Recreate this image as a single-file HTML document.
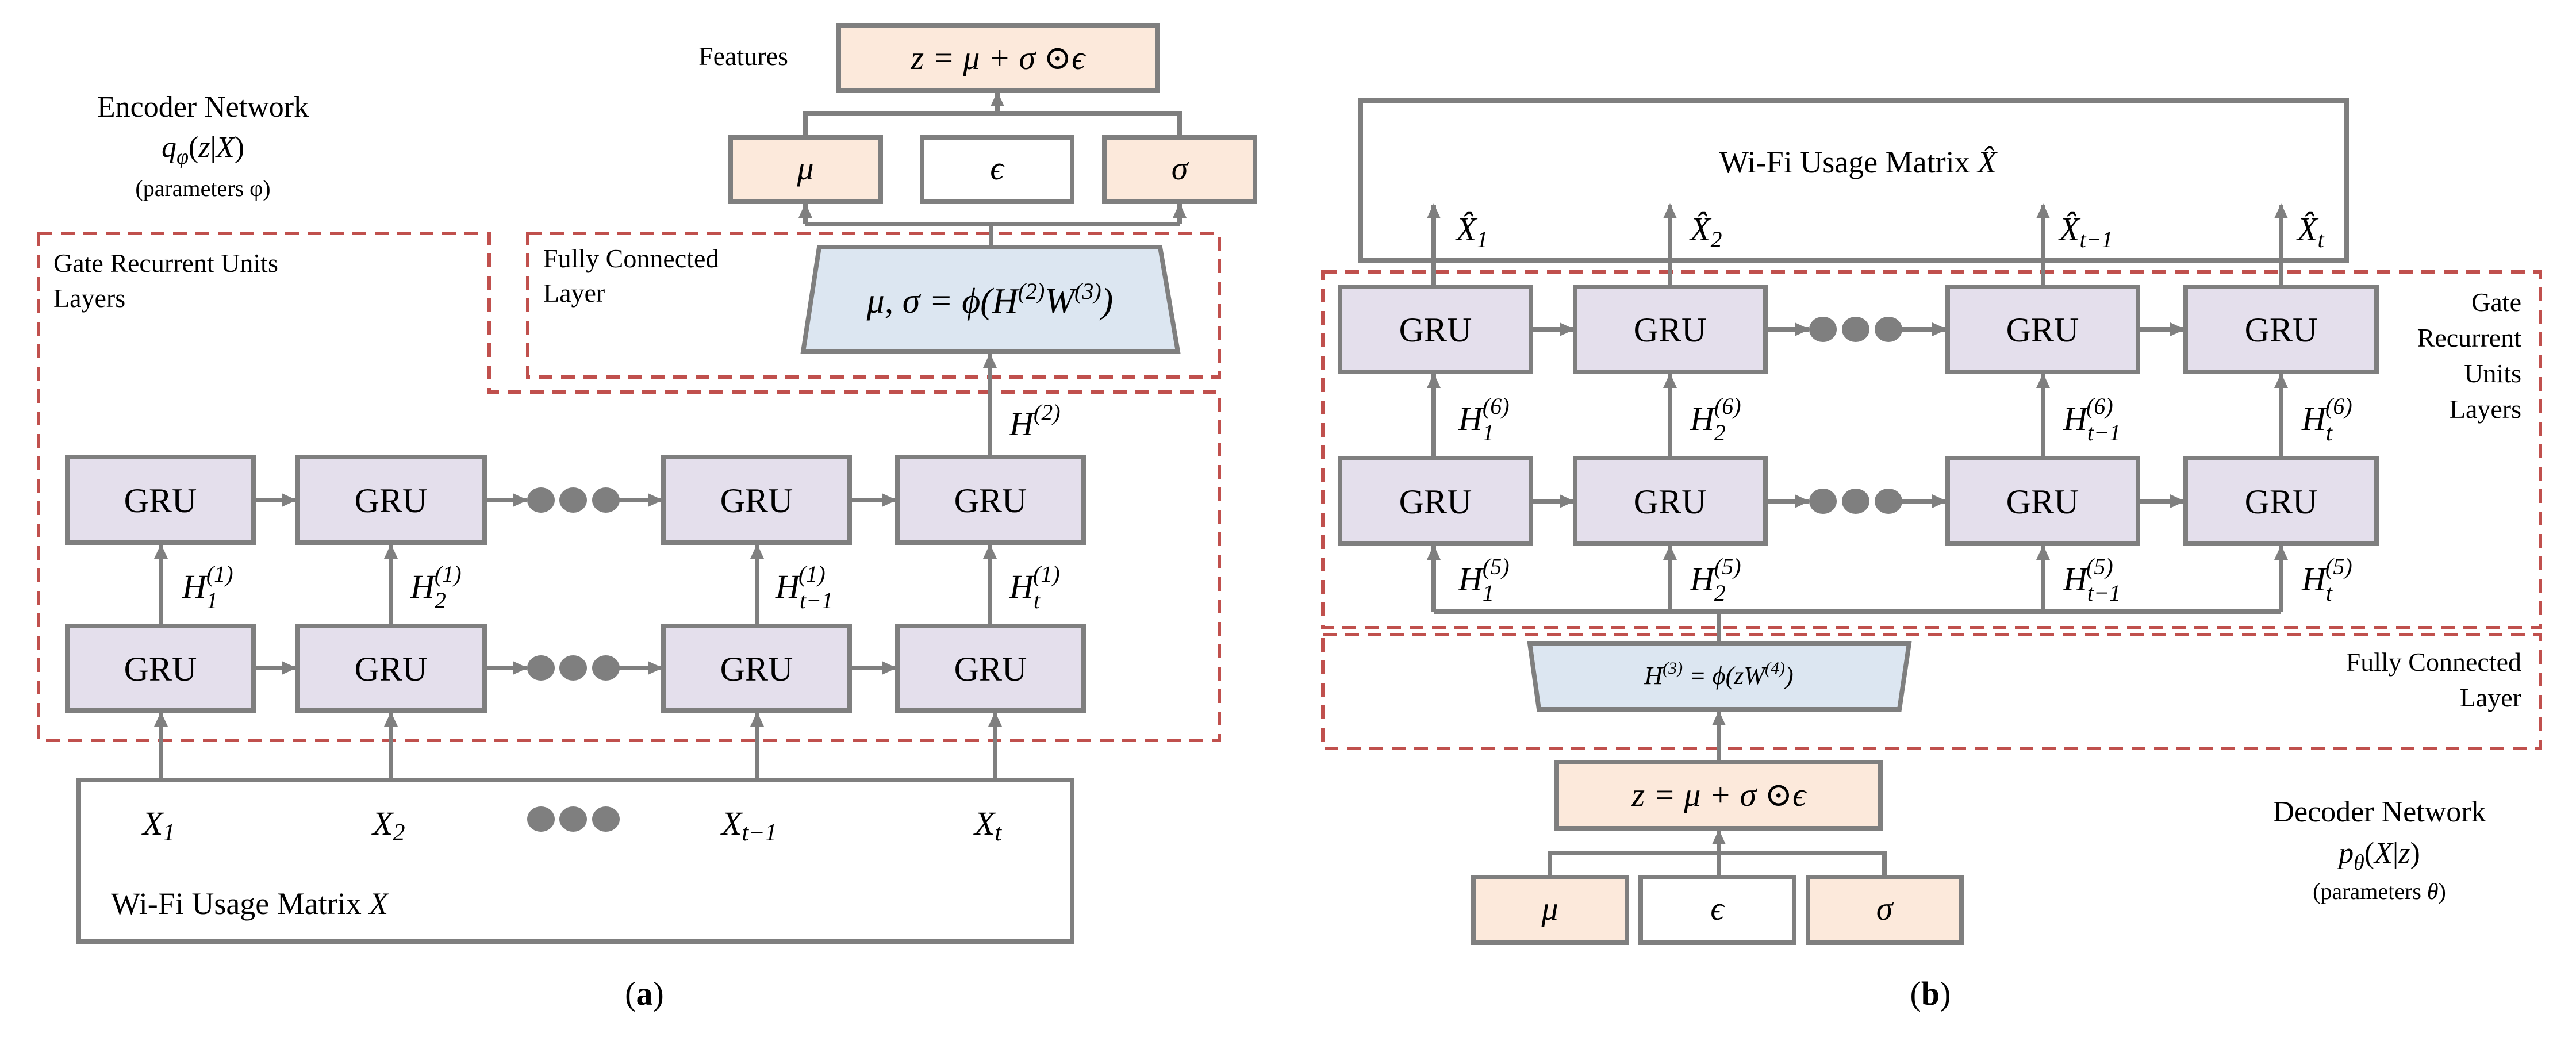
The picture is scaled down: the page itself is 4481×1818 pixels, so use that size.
<!DOCTYPE html>
<html><head><meta charset="utf-8"><style>
html,body{margin:0;padding:0;background:#fff}
svg{display:block}
text{font-family:"Liberation Serif","DejaVu Serif",serif;fill:#000}
.m{font-style:italic}
</style></head><body>
<svg width="4481" height="1818" viewBox="0 0 4481 1818" xmlns="http://www.w3.org/2000/svg" font-family="'Liberation Serif','DejaVu Serif',serif">
<defs>
<marker id="a" markerUnits="userSpaceOnUse" markerWidth="26" markerHeight="24" refX="24" refY="12" orient="auto">
<path d="M0,0 L26,12 L0,24 Z" fill="#7f7f7f"/></marker>
</defs>
<g stroke="#c0504d" stroke-width="6" stroke-dasharray="24 15" fill="none">
<path d="M67,406 H851 V682 H2121 V1288 H67 Z"/>
<rect x="918" y="406" width="1203" height="250"/>
<rect x="2301" y="473" width="2118" height="619"/>
<rect x="2301" y="1104" width="2118" height="198"/>
</g>
<g stroke="#7f7f7f" stroke-width="8" fill="none">
<path d="M1724,612 V390 M1401,390 H2052" />
<line x1="1401" y1="390" x2="1401" y2="355" marker-end="url(#a)"/>
<line x1="2052" y1="390" x2="2052" y2="355" marker-end="url(#a)"/>
<path d="M1401,239 V197 H2052 V239"/>
<line x1="1735" y1="197" x2="1735" y2="161" marker-end="url(#a)"/>
<line x1="1722" y1="795" x2="1722" y2="616" marker-end="url(#a)"/>
<line x1="280" y1="1357" x2="280" y2="1240" marker-end="url(#a)"/>
<line x1="680" y1="1357" x2="680" y2="1240" marker-end="url(#a)"/>
<line x1="1317" y1="1357" x2="1317" y2="1240" marker-end="url(#a)"/>
<line x1="1731" y1="1357" x2="1731" y2="1240" marker-end="url(#a)"/>
<line x1="280" y1="1089" x2="280" y2="948" marker-end="url(#a)"/>
<line x1="680" y1="1089" x2="680" y2="948" marker-end="url(#a)"/>
<line x1="1317" y1="1089" x2="1317" y2="948" marker-end="url(#a)"/>
<line x1="1722" y1="1089" x2="1722" y2="948" marker-end="url(#a)"/>
<line x1="441" y1="870" x2="514" y2="870" marker-end="url(#a)"/>
<line x1="441" y1="1162" x2="514" y2="1162" marker-end="url(#a)"/>
<line x1="843" y1="870" x2="916" y2="870" marker-end="url(#a)"/>
<line x1="843" y1="1162" x2="916" y2="1162" marker-end="url(#a)"/>
<line x1="1054" y1="870" x2="1151" y2="870" marker-end="url(#a)"/>
<line x1="1054" y1="1162" x2="1151" y2="1162" marker-end="url(#a)"/>
<line x1="1478" y1="870" x2="1558" y2="870" marker-end="url(#a)"/>
<line x1="1478" y1="1162" x2="1558" y2="1162" marker-end="url(#a)"/>
<line x1="2494" y1="499" x2="2494" y2="356" marker-end="url(#a)"/>
<line x1="2905" y1="499" x2="2905" y2="356" marker-end="url(#a)"/>
<line x1="3554" y1="499" x2="3554" y2="356" marker-end="url(#a)"/>
<line x1="3968" y1="499" x2="3968" y2="356" marker-end="url(#a)"/>
<line x1="2494" y1="797" x2="2494" y2="651" marker-end="url(#a)"/>
<line x1="2905" y1="797" x2="2905" y2="651" marker-end="url(#a)"/>
<line x1="3554" y1="797" x2="3554" y2="651" marker-end="url(#a)"/>
<line x1="3968" y1="797" x2="3968" y2="651" marker-end="url(#a)"/>
<path d="M2494,1064 H3968 M2990,1064 V1119"/>
<line x1="2494" y1="1064" x2="2494" y2="950" marker-end="url(#a)"/>
<line x1="2905" y1="1064" x2="2905" y2="950" marker-end="url(#a)"/>
<line x1="3554" y1="1064" x2="3554" y2="950" marker-end="url(#a)"/>
<line x1="3968" y1="1064" x2="3968" y2="950" marker-end="url(#a)"/>
<line x1="2663" y1="573" x2="2737" y2="573" marker-end="url(#a)"/>
<line x1="2663" y1="872" x2="2737" y2="872" marker-end="url(#a)"/>
<line x1="3071" y1="573" x2="3146" y2="573" marker-end="url(#a)"/>
<line x1="3071" y1="872" x2="3146" y2="872" marker-end="url(#a)"/>
<line x1="3285" y1="573" x2="3385" y2="573" marker-end="url(#a)"/>
<line x1="3285" y1="872" x2="3385" y2="872" marker-end="url(#a)"/>
<line x1="3719" y1="573" x2="3799" y2="573" marker-end="url(#a)"/>
<line x1="3719" y1="872" x2="3799" y2="872" marker-end="url(#a)"/>
<line x1="2990" y1="1326" x2="2990" y2="1238" marker-end="url(#a)"/>
<path d="M2696,1526 V1484 H3278 V1526"/>
<line x1="2990" y1="1526" x2="2990" y2="1445" marker-end="url(#a)"/>
</g>
<g fill="#7f7f7f">
<ellipse cx="941" cy="870" rx="24" ry="22"/><ellipse cx="997" cy="870" rx="24" ry="22"/><ellipse cx="1054" cy="870" rx="24" ry="22"/>
<ellipse cx="941" cy="1162" rx="24" ry="22"/><ellipse cx="997" cy="1162" rx="24" ry="22"/><ellipse cx="1054" cy="1162" rx="24" ry="22"/>
<ellipse cx="941" cy="1425" rx="24" ry="22"/><ellipse cx="997" cy="1425" rx="24" ry="22"/><ellipse cx="1054" cy="1425" rx="24" ry="22"/>
<ellipse cx="3171" cy="573" rx="24" ry="22"/><ellipse cx="3228" cy="573" rx="24" ry="22"/><ellipse cx="3285" cy="573" rx="24" ry="22"/>
<ellipse cx="3171" cy="872" rx="24" ry="22"/><ellipse cx="3228" cy="872" rx="24" ry="22"/><ellipse cx="3285" cy="872" rx="24" ry="22"/>
</g>
<g stroke="#7f7f7f" stroke-width="8">
<rect x="1459" y="44" width="554" height="113" fill="#fce9db"/>
<rect x="1271" y="239" width="261" height="112" fill="#fce9db"/>
<rect x="1604" y="239" width="261" height="112" fill="#fff"/>
<rect x="1921" y="239" width="262" height="112" fill="#fce9db"/>
<polygon points="1425,430 2018,430 2049,612 1397,612" fill="#dce6f1"/>
<g fill="#e4dfec">
<rect x="117" y="795" width="324" height="149"/><rect x="517" y="795" width="326" height="149"/>
<rect x="1154" y="795" width="324" height="149"/><rect x="1561" y="795" width="324" height="149"/>
<rect x="117" y="1089" width="324" height="147"/><rect x="517" y="1089" width="326" height="147"/>
<rect x="1154" y="1089" width="324" height="147"/><rect x="1561" y="1089" width="324" height="147"/>
<rect x="2331" y="499" width="332" height="148"/><rect x="2740" y="499" width="331" height="148"/>
<rect x="3388" y="499" width="331" height="148"/><rect x="3802" y="499" width="332" height="148"/>
<rect x="2331" y="797" width="332" height="149"/><rect x="2740" y="797" width="331" height="149"/>
<rect x="3388" y="797" width="331" height="149"/><rect x="3802" y="797" width="332" height="149"/>
</g>
<rect x="137" y="1357" width="1728" height="281" fill="none"/>
<rect x="2367" y="175" width="1715" height="278" fill="none"/>
<polygon points="2661,1119 3321,1119 3304,1234 2677,1234" fill="#dce6f1"/>
<rect x="2708" y="1326" width="563" height="115" fill="#fce9db"/>
<rect x="2563" y="1526" width="267" height="114" fill="#fce9db"/>
<rect x="2854" y="1526" width="267" height="114" fill="#fff"/>
<rect x="3145" y="1526" width="267" height="114" fill="#fce9db"/>
</g>
<g font-size="60" text-anchor="middle">
<text x="279" y="891">GRU</text><text x="680" y="891">GRU</text><text x="1316" y="891">GRU</text><text x="1723" y="891">GRU</text>
<text x="279" y="1184">GRU</text><text x="680" y="1184">GRU</text><text x="1316" y="1184">GRU</text><text x="1723" y="1184">GRU</text>
<text x="2497" y="594">GRU</text><text x="2905" y="594">GRU</text><text x="3553" y="594">GRU</text><text x="3968" y="594">GRU</text>
<text x="2497" y="893">GRU</text><text x="2905" y="893">GRU</text><text x="3553" y="893">GRU</text><text x="3968" y="893">GRU</text>
</g>
<g font-size="58" class="m" text-anchor="middle">
<text x="1736" y="120">z = μ + σ ⊙ϵ</text>
<text x="1401" y="312">μ</text><text x="1734" y="312">ϵ</text><text x="2052" y="312">σ</text>
<text x="1722" y="544" font-size="62">μ, σ = ϕ(H<tspan font-size="40" dy="-24">(2)</tspan><tspan dy="24">W</tspan><tspan font-size="40" dy="-24">(3)</tspan><tspan dy="24">)</tspan></text>
<text x="2990" y="1402">z = μ + σ ⊙ϵ</text>
<text x="2696" y="1600">μ</text><text x="2987" y="1600">ϵ</text><text x="3278" y="1600">σ</text>
</g>
<text x="2990" y="1190" font-size="44" class="m" text-anchor="middle">H<tspan font-size="30" dy="-18">(3)</tspan><tspan dy="18"> = ϕ(zW</tspan><tspan font-size="30" dy="-18">(4)</tspan><tspan dy="18">)</tspan></text>
<g font-size="58" class="m">
<text x="1756" y="757">H<tspan font-size="40" dy="-26">(2)</tspan></text>
<text x="317" y="1040">H<tspan font-size="40" dy="18">1</tspan><tspan font-size="40" dx="-20" dy="-46">(1)</tspan></text>
<text x="714" y="1040">H<tspan font-size="40" dy="18">2</tspan><tspan font-size="40" dx="-20" dy="-46">(1)</tspan></text>
<text x="1349" y="1040">H<tspan font-size="40" dy="18">t−1</tspan><tspan font-size="40" dx="-60" dy="-46">(1)</tspan></text>
<text x="1756" y="1040">H<tspan font-size="40" dy="18">t</tspan><tspan font-size="40" dx="-12" dy="-46">(1)</tspan></text>
<text x="2537" y="748">H<tspan font-size="40" dy="18">1</tspan><tspan font-size="40" dx="-20" dy="-46">(6)</tspan></text>
<text x="2940" y="748">H<tspan font-size="40" dy="18">2</tspan><tspan font-size="40" dx="-20" dy="-46">(6)</tspan></text>
<text x="3589" y="748">H<tspan font-size="40" dy="18">t−1</tspan><tspan font-size="40" dx="-60" dy="-46">(6)</tspan></text>
<text x="4004" y="748">H<tspan font-size="40" dy="18">t</tspan><tspan font-size="40" dx="-12" dy="-46">(6)</tspan></text>
<text x="2537" y="1027">H<tspan font-size="40" dy="18">1</tspan><tspan font-size="40" dx="-20" dy="-46">(5)</tspan></text>
<text x="2940" y="1027">H<tspan font-size="40" dy="18">2</tspan><tspan font-size="40" dx="-20" dy="-46">(5)</tspan></text>
<text x="3589" y="1027">H<tspan font-size="40" dy="18">t−1</tspan><tspan font-size="40" dx="-60" dy="-46">(5)</tspan></text>
<text x="4004" y="1027">H<tspan font-size="40" dy="18">t</tspan><tspan font-size="40" dx="-12" dy="-46">(5)</tspan></text>
<text x="248" y="1452">X<tspan font-size="42" dy="10">1</tspan></text>
<text x="648" y="1452">X<tspan font-size="42" dy="10">2</tspan></text>
<text x="1255" y="1452">X<tspan font-size="42" dy="10">t−1</tspan></text>
<text x="1695" y="1452">X<tspan font-size="42" dy="10">t</tspan></text>
<text x="2533" y="418">X̂<tspan font-size="40" dy="12">1</tspan></text>
<text x="2940" y="418">X̂<tspan font-size="40" dy="12">2</tspan></text>
<text x="3582" y="418">X̂<tspan font-size="40" dy="12">t−1</tspan></text>
<text x="3996" y="418">X̂<tspan font-size="40" dy="12">t</tspan></text>
</g>
<g font-size="46">
<text x="1293" y="113" text-anchor="middle">Features</text>
<text x="93" y="473">Gate Recurrent Units</text>
<text x="93" y="534">Layers</text>
<text x="945" y="465">Fully Connected</text>
<text x="945" y="525">Layer</text>
<g text-anchor="end">
<text x="4386" y="541">Gate</text><text x="4386" y="603">Recurrent</text>
<text x="4386" y="665">Units</text><text x="4386" y="727">Layers</text>
<text x="4386" y="1167">Fully Connected</text><text x="4386" y="1229">Layer</text>
</g>
</g>
<g font-size="52" text-anchor="middle">
<text x="353" y="203">Encoder Network</text>
<text x="353" y="273"><tspan class="m">q</tspan><tspan class="m" font-size="38" dy="12">φ</tspan><tspan dy="-12">(</tspan><tspan class="m">z</tspan>|<tspan class="m">X</tspan>)</text>
<text x="4139" y="1429">Decoder Network</text>
<text x="4139" y="1501"><tspan class="m">p</tspan><tspan class="m" font-size="38" dy="12">θ</tspan><tspan dy="-12">(</tspan><tspan class="m">X</tspan>|<tspan class="m">z</tspan>)</text>
</g>
<text x="353" y="341" font-size="40" text-anchor="middle">(parameters φ)</text>
<text x="4139" y="1564" font-size="40" text-anchor="middle">(parameters <tspan class="m">θ</tspan>)</text>
<text x="193" y="1590" font-size="54">Wi-Fi Usage Matrix <tspan class="m">X</tspan></text>
<text x="3232" y="300" font-size="54" text-anchor="middle">Wi-Fi Usage Matrix <tspan class="m">X̂</tspan></text>
<text x="1121" y="1748" font-size="58" text-anchor="middle">(<tspan font-weight="bold">a</tspan>)</text>
<text x="3358" y="1748" font-size="58" text-anchor="middle">(<tspan font-weight="bold">b</tspan>)</text>
</svg>
</body></html>
